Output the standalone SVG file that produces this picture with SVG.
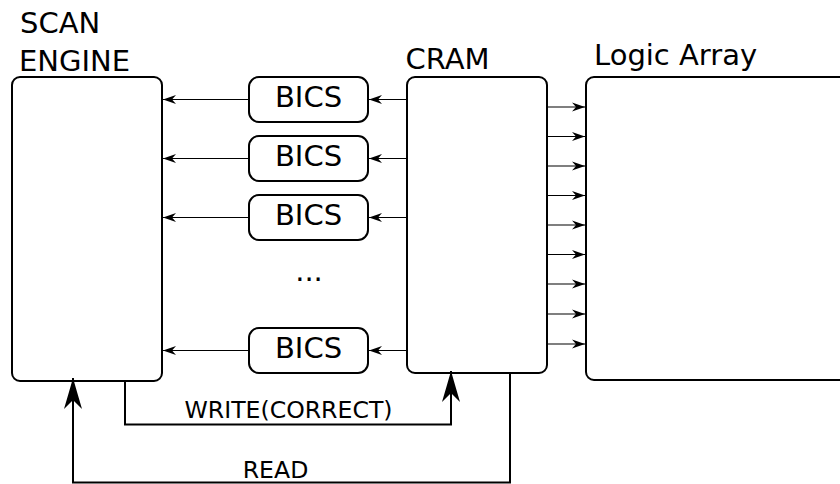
<svg xmlns="http://www.w3.org/2000/svg" width="840" height="484" viewBox="0 0 840 484">
<style>
.box{fill:#fff;stroke:#000;stroke-width:2}
.lbl{font-family:"DejaVu Sans","Liberation Sans",sans-serif;font-size:29px;fill:#000}
.sm{font-family:"DejaVu Sans","Liberation Sans",sans-serif;font-size:23.6px;fill:#000}
.thin{fill:none;stroke:#000;stroke-width:1.2}
.thick{fill:none;stroke:#000;stroke-width:2}
</style>
<defs>
<marker id="ah" markerUnits="userSpaceOnUse" markerWidth="16" markerHeight="12" viewBox="-14 -6 16 12" refX="0" refY="0" orient="auto">
<path d="M0,0 L-13,-4.5 L-9,0 L-13,4.5 Z" fill="#000"/>
</marker>
<marker id="big" markerUnits="userSpaceOnUse" markerWidth="36" markerHeight="24" viewBox="-33 -12 36 24" refX="0" refY="0" orient="auto">
<path d="M0,0 Q-14,-4 -31,-9 L-22,0 L-31,9 Q-14,4 0,0 Z" fill="#000"/>
</marker>
</defs>
<rect width="840" height="484" fill="#fff"/>
<g id="scan-engine">
<rect class="box" x="12" y="77" width="150" height="304" rx="8"/>
<text class="lbl" x="20" y="33">SCAN</text>
<text class="lbl" x="19" y="71">ENGINE</text>
</g>
<g id="cram">
<rect class="box" x="407" y="77" width="140" height="296" rx="8"/>
<text class="lbl" x="405.5" y="69">CRAM</text>
</g>
<g id="logic-array">
<rect class="box" x="586" y="77" width="270" height="303" rx="8"/>
<text class="lbl" x="594" y="65">Logic Array</text>
</g>
<g id="bics1">
<rect class="box" x="249" y="77" width="119" height="45" rx="10"/>
<text class="lbl" x="308.5" y="107" text-anchor="middle">BICS</text>
</g>
<g id="bics2">
<rect class="box" x="249" y="136" width="119" height="45" rx="10"/>
<text class="lbl" x="308.5" y="166" text-anchor="middle">BICS</text>
</g>
<g id="bics3">
<rect class="box" x="249" y="195" width="119" height="45" rx="10"/>
<text class="lbl" x="308.5" y="225" text-anchor="middle">BICS</text>
</g>
<g id="ellipsis">
<text class="lbl" x="309" y="281" text-anchor="middle">...</text>
</g>
<g id="bics4">
<rect class="box" x="249" y="328" width="119" height="45" rx="10"/>
<text class="lbl" x="308.5" y="358" text-anchor="middle">BICS</text>
</g>
<g id="connectors">
<path class="thin" d="M407,99.5 H369" marker-end="url(#ah)"/>
<path class="thin" d="M249,99.5 H163" marker-end="url(#ah)"/>
<path class="thin" d="M407,158.5 H369" marker-end="url(#ah)"/>
<path class="thin" d="M249,158.5 H163" marker-end="url(#ah)"/>
<path class="thin" d="M407,217.5 H369" marker-end="url(#ah)"/>
<path class="thin" d="M249,217.5 H163" marker-end="url(#ah)"/>
<path class="thin" d="M407,350.5 H369" marker-end="url(#ah)"/>
<path class="thin" d="M249,350.5 H163" marker-end="url(#ah)"/>
<path class="thin" d="M547,107 H585" marker-end="url(#ah)"/>
<path class="thin" d="M547,136.5 H585" marker-end="url(#ah)"/>
<path class="thin" d="M547,166 H585" marker-end="url(#ah)"/>
<path class="thin" d="M547,195.5 H585" marker-end="url(#ah)"/>
<path class="thin" d="M547,225 H585" marker-end="url(#ah)"/>
<path class="thin" d="M547,254.5 H585" marker-end="url(#ah)"/>
<path class="thin" d="M547,284 H585" marker-end="url(#ah)"/>
<path class="thin" d="M547,314 H585" marker-end="url(#ah)"/>
<path class="thin" d="M547,344 H585" marker-end="url(#ah)"/>
<path class="thick" d="M125,381 V424.5 H451 V371" marker-end="url(#big)"/>
<path class="thick" d="M510,373 V482.5 H73 V378" marker-end="url(#big)"/>
<text class="sm" x="288.5" y="418" text-anchor="middle">WRITE(CORRECT)</text>
<text class="sm" x="275.5" y="478" text-anchor="middle">READ</text>
</g>
</svg>
